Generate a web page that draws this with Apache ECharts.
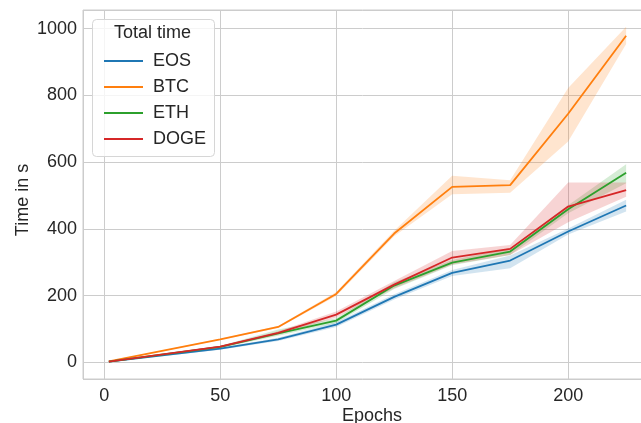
<!DOCTYPE html>
<html>
<head>
<meta charset="utf-8">
<script src="https://cdn.jsdelivr.net/npm/echarts@6/dist/echarts.min.js"></script>
<style>html,body{margin:0;padding:0;background:#fff}#c{width:641px;height:423px}</style>
</head>
<body>
<div id="c"></div>
<script>
const epochs = [2, 50, 75, 100, 125, 150, 175, 200, 225];
const seriesNames = ['EOS', 'BTC', 'ETH', 'DOGE'];
const eosMean = [2, 41, 69, 113, 196, 268, 305, 392, 470];
const eosLow  = [1, 38, 64, 106, 188, 259, 282, 383, 452];
const eosHigh = [3, 44, 74, 120, 204, 277, 320, 401, 487];
const btcMean = [3, 69, 106, 205, 386, 526, 531, 745, 979];
const btcLow  = [2, 67, 103, 199, 378, 504, 508, 662, 954];
const btcHigh = [4, 71, 109, 211, 394, 559, 546, 822, 1006];
const ethMean = [2, 46, 87, 125, 230, 299, 332, 459, 568];
const ethLow  = [1, 43, 80, 118, 220, 291, 322, 447, 537];
const ethHigh = [3, 49, 98, 132, 240, 307, 342, 471, 594];
const dogeMean = [2, 47, 88, 143, 233, 314, 340, 467, 516];
const dogeLow  = [1, 44, 83, 134, 222, 293, 322, 420, 496];
const dogeHigh = [3, 50, 93, 152, 244, 334, 352, 539, 539];
const yTicks = [0, 200, 400, 600, 800, 1000];
const xTicks = [0, 50, 100, 150, 200];

const colors = ['#1f77b4', '#ff7f0e', '#2ca02c', '#d62728'];
const bandColors = ['rgba(31,119,180,0.2)', 'rgba(255,127,14,0.2)', 'rgba(44,160,44,0.2)', 'rgba(214,39,40,0.2)'];
const means = [eosMean, btcMean, ethMean, dogeMean];
const lows = [eosLow, btcLow, ethLow, dogeLow];
const highs = [eosHigh, btcHigh, ethHigh, dogeHigh];
const FONT = "'Liberation Sans', Arial, sans-serif";
const TXT = '#262626';
const FS = 18;

const chart = echarts.init(document.getElementById('c'), null, {renderer: 'canvas'});

const bandSeries = seriesNames.map((name, k) => ({
  type: 'custom',
  name: name + ' band',
  z: 1,
  clip: true,
  silent: true,
  data: epochs.map((e, i) => [e, lows[k][i], highs[k][i]]),
  encode: {x: 0, y: [1, 2]},
  renderItem: function (params, api) {
    if (params.dataIndex !== 0) return null;
    const pts = [];
    for (let i = 0; i < epochs.length; i++) pts.push(api.coord([epochs[i], highs[k][i]]));
    for (let i = epochs.length - 1; i >= 0; i--) pts.push(api.coord([epochs[i], lows[k][i]]));
    return {
      type: 'polygon',
      shape: {points: pts},
      style: {fill: bandColors[k], stroke: null}
    };
  }
}));

const lineSeries = seriesNames.map((name, k) => ({
  type: 'line',
  name: name,
  z: 3 + k,
  data: epochs.map((e, i) => [e, means[k][i]]),
  showSymbol: false,
  symbol: 'none',
  lineStyle: {color: colors[k], width: 1.8},
  itemStyle: {color: colors[k]},
  emphasis: {disabled: true},
  animation: false
}));

chart.setOption({
  animation: false,
  backgroundColor: '#ffffff',
  grid: {left: 83, top: 10, width: 569, height: 369, show: true, borderColor: '#cccccc', borderWidth: 1,
         containLabel: false, outerBoundsMode: 'none'},
  xAxis: {
    type: 'value', min: -9.15, max: 236.15,
    axisLine: {show: false}, axisTick: {show: false},
    splitLine: {show: true, lineStyle: {color: '#cccccc', width: 1}},
    axisLabel: {
      color: TXT, fontSize: FS, fontFamily: FONT, margin: 8,
      showMinLabel: false, showMaxLabel: false,
      formatter: v => xTicks.indexOf(v) >= 0 ? String(v) : ''
    },
    name: 'Epochs', nameLocation: 'middle', nameGap: 28, nameMoveOverlap: false,
    nameTextStyle: {color: TXT, fontSize: FS, fontFamily: FONT, padding: [0, 0, 0, 9]}
  },
  yAxis: {
    type: 'value', min: -50, max: 1056,
    axisLine: {show: false}, axisTick: {show: false},
    splitLine: {show: true, lineStyle: {color: '#cccccc', width: 1}},
    axisLabel: {
      color: TXT, fontSize: FS, fontFamily: FONT, margin: 6,
      showMinLabel: false, showMaxLabel: false,
      formatter: v => yTicks.indexOf(v) >= 0 ? String(v) : ''
    },
    name: 'Time in s', nameLocation: 'middle', nameGap: 51, nameRotate: 90, nameMoveOverlap: false,
    nameTextStyle: {color: TXT, fontSize: FS, fontFamily: FONT, padding: [0, 11, 0, 0]}
  },
  legend: {
    data: seriesNames,
    orient: 'vertical', left: 99, top: 46, z: 20,
    icon: 'rect', itemWidth: 39, itemHeight: 2, itemGap: 6,
    selectedMode: false,
    textStyle: {color: TXT, fontSize: FS, fontFamily: FONT, lineHeight: 20, padding: [0, 0, 0, 5]}
  },
  graphic: [
    {type: 'rect', z: 15, left: 92, top: 19, shape: {width: 122, height: 137, r: 4},
     style: {fill: 'rgba(255,255,255,0.8)', stroke: '#d6d6d6', lineWidth: 1}},
    {type: 'text', z: 16, left: 114, top: 24, style: {text: 'Total time', fill: TXT, font: "18px 'Liberation Sans', Arial, sans-serif"}}
  ],
  series: bandSeries.concat(lineSeries)
});
</script>
</body>
</html>
